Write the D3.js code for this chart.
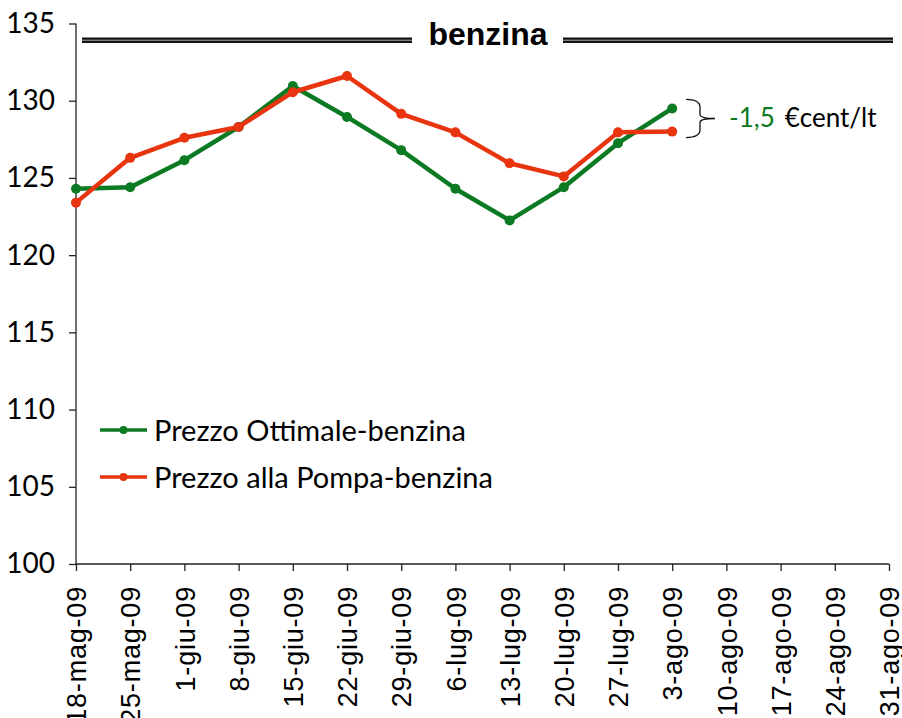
<!DOCTYPE html>
<html>
<head>
<meta charset="utf-8">
<script src="https://cdnjs.cloudflare.com/ajax/libs/d3/7.8.5/d3.min.js"></script>
<style>
  body { margin: 0; background: #fff; }
  svg { display: block; font-family: Lato, "Noto Sans", sans-serif; }
</style>
</head>
<body>
<script>
// weekly dates on the x axis
var dates = ["18-mag-09", "25-mag-09", "1-giu-09", "8-giu-09", "15-giu-09", "22-giu-09",
             "29-giu-09", "6-lug-09", "13-lug-09", "20-lug-09", "27-lug-09", "3-ago-09",
             "10-ago-09", "17-ago-09", "24-ago-09", "31-ago-09"];
// prices, only the first 12 weeks have values
var ottimale = [124.3, 124.4, 126.15, 128.3, 130.95, 128.95, 126.8, 124.3, 122.25, 124.4, 127.25, 129.5];
var pompa = [123.4, 126.3, 127.6, 128.3, 130.55, 131.6, 129.15, 127.95, 125.95, 125.1, 127.95, 128.0];
var yTicks = [100, 105, 110, 115, 120, 125, 130, 135];
var seriesNames = ["Prezzo Ottimale-benzina", "Prezzo alla Pompa-benzina"];
var deltaLabel = "-1,5";
var unitLabel = "€cent/lt";

var width = 902, height = 718;
var green = "#0b7a22", red = "#e8340f";

var svg = d3.select("body").append("svg")
    .attr("width", width)
    .attr("height", height);

var x = d3.scalePoint().domain(dates).range([76, 889]);
var y = d3.scaleLinear().domain([100, 135]).range([564, 23.5]);

// y axis
var yAxis = svg.append("g")
    .attr("transform", "translate(76,0)")
    .call(d3.axisLeft(y).tickValues(yTicks).tickSize(7).tickPadding(14).tickFormat(d3.format("d")));
yAxis.select(".domain").attr("stroke", "#222").attr("stroke-width", 1.3).attr("d", "M0," + y(135) + "V" + y(100));
yAxis.selectAll(".tick line").attr("stroke", "#222").attr("stroke-width", 1.3);
yAxis.selectAll("text").attr("font-size", 28).attr("fill", "#000").attr("font-family", "Lato, sans-serif");

// x axis
var xAxis = svg.append("g")
    .attr("transform", "translate(0," + y(100) + ")")
    .call(d3.axisBottom(x).tickSize(7).tickPadding(0));
xAxis.select(".domain").attr("stroke", "#222").attr("stroke-width", 1.3).attr("d", "M76,0H889");
xAxis.selectAll(".tick line").attr("stroke", "#222").attr("stroke-width", 1.3);
xAxis.selectAll("text")
    .attr("font-size", 27)
    .attr("fill", "#000")
    .attr("text-anchor", "end")
    .attr("letter-spacing", 0.8)
    .attr("transform", "rotate(-90)")
    .attr("x", -22)
    .attr("y", 0)
    .attr("dy", "0.36em");

// lines and markers
var line = d3.line()
    .x(function(d, i){ return x(dates[i]); })
    .y(function(d){ return y(d); });

function drawSeries(values, color){
    svg.append("path")
        .datum(values)
        .attr("fill", "none")
        .attr("stroke", color)
        .attr("stroke-width", 4.5)
        .attr("stroke-linejoin", "round")
        .attr("d", line);
    svg.selectAll(null)
        .data(values)
        .enter()
        .append("circle")
        .attr("cx", function(d, i){ return x(dates[i]); })
        .attr("cy", function(d){ return y(d); })
        .attr("r", 5)
        .attr("fill", color);
}
drawSeries(ottimale, green);
drawSeries(pompa, red);

// title with double rules
function doubleRule(x1, x2){
    svg.append("rect").attr("x", x1).attr("y", 37.5).attr("width", x2 - x1).attr("height", 5.5).attr("fill", "#111");
    svg.append("rect").attr("x", x1).attr("y", 39.6).attr("width", x2 - x1).attr("height", 1.3).attr("fill", "#888");
}
doubleRule(82, 412);
doubleRule(563, 893);
svg.append("text")
    .attr("x", 488).attr("y", 45)
    .attr("text-anchor", "middle")
    .attr("font-family", "'Liberation Sans', Arial, sans-serif")
    .attr("font-weight", "bold")
    .attr("font-size", 32)
    .text("benzina");

// brace annotation at the last value
var last = ottimale.length - 1;
var yTop = y(ottimale[last]) - 9, yBot = y(pompa[last]) + 6;
var yMid = (yTop + yBot) / 2, bx = 686;
svg.append("path")
    .attr("fill", "none")
    .attr("stroke", "#111")
    .attr("stroke-width", 1.3)
    .attr("d", "M" + bx + "," + yTop + " Q" + (bx + 14) + "," + yTop + " " + (bx + 14) + "," + (yTop + 8) +
        " V" + (yMid - 4) + " Q" + (bx + 14) + "," + yMid + " " + (bx + 29) + "," + yMid +
        " Q" + (bx + 14) + "," + yMid + " " + (bx + 14) + "," + (yMid + 4) +
        " V" + (yBot - 8) + " Q" + (bx + 14) + "," + yBot + " " + bx + "," + yBot);
var ann = svg.append("text")
    .attr("x", 729).attr("y", 127)
    .attr("font-size", 26);
ann.append("tspan").attr("fill", green).text(deltaLabel);
ann.append("tspan").attr("fill", "#000").attr("dx", 10).text(unitLabel);

// legend
var legend = svg.selectAll(".legend")
    .data(seriesNames)
    .enter()
    .append("g")
    .attr("class", "legend")
    .attr("transform", function(d, i){ return "translate(100," + (430 + i * 47) + ")"; });
legend.append("line")
    .attr("x1", 0).attr("x2", 47)
    .attr("stroke", function(d, i){ return i === 0 ? green : red; })
    .attr("stroke-width", 3.5);
legend.append("circle")
    .attr("cx", 23.5).attr("r", 4)
    .attr("fill", function(d, i){ return i === 0 ? green : red; });
legend.append("text")
    .attr("x", 54).attr("y", 11)
    .attr("font-size", 29)
    .text(function(d){ return d; });
</script>
</body>
</html>
